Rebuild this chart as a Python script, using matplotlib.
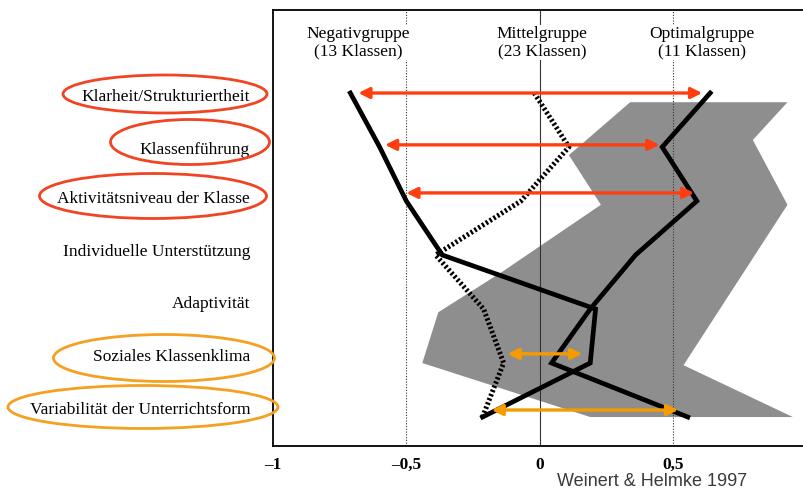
import matplotlib
matplotlib.use("Agg")
import matplotlib.pyplot as plt
from matplotlib.patches import Polygon, Ellipse

plt.rcParams['font.family'] = ['Liberation Serif', 'DejaVu Serif']

# categories, top to bottom
labels = ['Klarheit/Strukturiertheit', 'Klassenführung', 'Aktivitätsniveau der Klasse',
          'Individuelle Unterstützung', 'Adaptivität', 'Soziales Klassenklima',
          'Variabilität der Unterrichtsform']
rows = [0, 1, 2, 3, 4, 5, 6]
label_rows = [0.04, 1.02, 1.93, 2.91, 3.87, 4.85, 5.83]

# profile values per group
negativ = [-0.71, -0.60, -0.50, -0.365, 0.21, 0.19, -0.214]
mittel = [-0.02, 0.11, -0.07, -0.39, -0.21, -0.135, -0.214]
optimal = [0.64, 0.46, 0.59, 0.36, 0.19, 0.045, 0.556]

# shaded range (outline)
band_x = [0.34, 0.93, 0.80, 0.93, 0.54, 0.95, 0.19, -0.44, -0.38, -0.14, 0.23, 0.11]
band_y = [0.17, 0.17, 0.87, 2.07, 5.04, 6.0, 6.0, 5.0, 4.06, 3.31, 2.07, 1.15]

# differences marked with arrows
arrow_rows = [0.0, 0.96, 1.85, 4.83, 5.87]
arrow_from = [-0.68, -0.58, -0.50, -0.12, -0.18]
arrow_to = [0.61, 0.45, 0.58, 0.16, 0.52]
arrow_col = ['#ff3d0f', '#ff3d0f', '#ff3d0f', '#f59b00', '#f59b00']

groups = ['Negativgruppe\n(13 Klassen)', 'Mittelgruppe\n(23 Klassen)', 'Optimalgruppe\n(11 Klassen)']
group_x = [-0.68, 0.01, 0.61]

xticks = [-1, -0.5, 0, 0.5]
xticklabels = ['–1', '–0,5', '0', '0,5']

fig = plt.figure(figsize=(8.04, 4.91), dpi=100)
ax = fig.add_axes([0.3396, 0.0916, 0.6604, 0.888])
ax.set_xlim(-1, 0.992)
ax.set_ylim(6.537, -1.537)

ax.add_patch(Polygon(list(zip(band_x, band_y)), closed=True, facecolor='#8e8e8e',
                     edgecolor='none', zorder=1))

ax.axvline(0, color='#333333', lw=0.8, zorder=2)
ax.axvline(-0.5, color='#333333', lw=0.8, ls=(0, (1, 1.5)), zorder=2)
ax.axvline(0.5, color='#333333', lw=0.8, ls=(0, (1, 1.5)), zorder=2)

ax.plot(mittel, rows, color='black', lw=3.6, ls=(0, (0.45, 0.45)), zorder=3)
ax.plot(negativ, rows, color='black', lw=3.4, solid_joinstyle='miter', zorder=4)
ax.plot(optimal, rows, color='black', lw=3.4, solid_joinstyle='miter', zorder=4)

for r, a, b, c in zip(arrow_rows, arrow_from, arrow_to, arrow_col):
    ax.annotate('', xy=(b, r), xytext=(a, r),
                arrowprops=dict(arrowstyle='<|-|>', color=c, lw=2.4,
                                mutation_scale=16, shrinkA=0, shrinkB=0), zorder=5)

for g, x in zip(groups, group_x):
    ax.text(x, -0.93, g, ha='center', va='center', fontsize=12.5, linespacing=1.05,
            bbox=dict(facecolor='white', edgecolor='none', pad=1), zorder=6)

ax.set_yticks(label_rows)
ax.set_yticklabels(labels, fontsize=12.5)
ax.set_xticks(xticks)
ax.set_xticklabels(xticklabels, fontsize=12.5, fontweight='bold')
ax.tick_params(axis='y', length=0, pad=16.5)
ax.tick_params(axis='x', length=0, pad=8)
ax.spines['right'].set_visible(False)
for s in ['left', 'top', 'bottom']:
    ax.spines[s].set_linewidth(1.3)

# ellipses round the highlighted labels (pixel centre, width, height)
ell_cx = [165, 190, 153, 164, 143]
ell_cy = [94, 142, 196, 358, 407]
ell_w = [204, 159, 227, 221, 270]
ell_h = [38, 45, 45, 47, 43]
ell_col = ['#f04422', '#f04422', '#f04422', '#f5a020', '#f5a020']
W, H = 804, 491
for cx, cy, w, h, c in zip(ell_cx, ell_cy, ell_w, ell_h, ell_col):
    fig.patches.append(Ellipse((cx / W, 1 - cy / H), w / W, h / H, fill=False,
                               edgecolor=c, lw=2, transform=fig.transFigure))

fig.text(652 / W, 1 - 482 / H, 'Weinert & Helmke 1997', ha='center', va='center',
         fontsize=13, family='Liberation Sans', color='#3a3a3a')

fig.savefig('out.png', dpi=100)
